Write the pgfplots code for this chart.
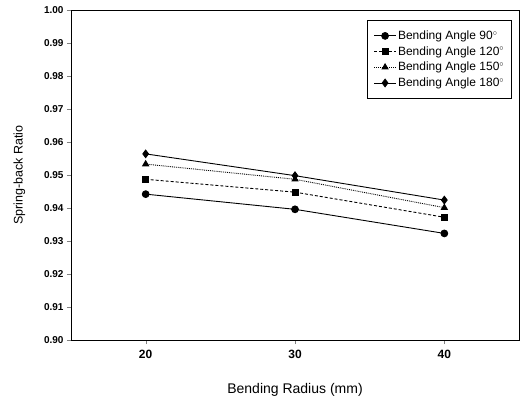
\documentclass[border=0pt]{standalone}
\usepackage{pgfplots}
\pgfplotsset{compat=1.18}
\usepackage{fontspec}
\setmainfont{Liberation Sans}
\begin{document}
\begin{tikzpicture}
\begin{axis}[
  at={(0,0)}, anchor=south west,
  scale only axis, width=448pt, height=330pt,
  xmin=15, xmax=45, ymin=0.90, ymax=1.00,
  xtick={20,30,40}, ytick={0.90,0.91,...,1.001},
  yticklabel style={/pgf/number format/fixed, /pgf/number format/fixed zerofill, /pgf/number format/precision=2, font=\fontsize{10}{12}\selectfont\bfseries},
  /pgf/number format/assume math mode=true,
  xticklabel style={font=\fontsize{12}{14}\selectfont\bfseries, yshift=-3pt},
  tick align=outside, tick pos=left,
  major tick length=4pt,
  xlabel={Bending Radius (mm)}, ylabel={Spring-back Ratio},
  xlabel style={font=\fontsize{14}{16}\selectfont, yshift=-17pt},
  ylabel style={font=\fontsize{12.5}{14}\selectfont, yshift=12pt},
  legend style={at={(1,1)}, anchor=north east, xshift=-7pt, yshift=-10pt,
    font=\fontsize{12}{14}\selectfont, draw=black, line width=0.6pt,
    inner xsep=6pt, inner ysep=9pt, row sep=2.5pt,
    nodes={inner sep=1.5pt}},
  legend image code/.code={\draw[#1] (0pt,0pt) -- (22pt,0pt); \draw[#1] plot coordinates {(11pt,0pt)};},
  legend cell align=left,
  every axis plot/.append style={black, line width=0.9pt, mark options={solid, fill=black}},
  axis line style={line width=0.7pt},
]
\addplot[mark=*, mark size=3.4pt] coordinates {(20,0.9442) (30,0.9396) (40,0.9323)};
\addlegendentry{Bending Angle 90$^\circ$}
\addplot[densely dashed, mark=square*, mark size=3pt] coordinates {(20,0.9487) (30,0.9448) (40,0.9372)};
\addlegendentry{Bending Angle 120$^\circ$}
\addplot[densely dotted, mark=triangle*, mark size=3.4pt] coordinates {(20,0.9533) (30,0.9487) (40,0.9401)};
\addlegendentry{Bending Angle 150$^\circ$}
\addplot[mark=diamond*, mark size=3.8pt] coordinates {(20,0.9564) (30,0.9498) (40,0.9424)};
\addlegendentry{Bending Angle 180$^\circ$}
\end{axis}
\pgfresetboundingbox
\path (-71pt,-61pt) rectangle (450pt,340pt);
\end{tikzpicture}
\end{document}
